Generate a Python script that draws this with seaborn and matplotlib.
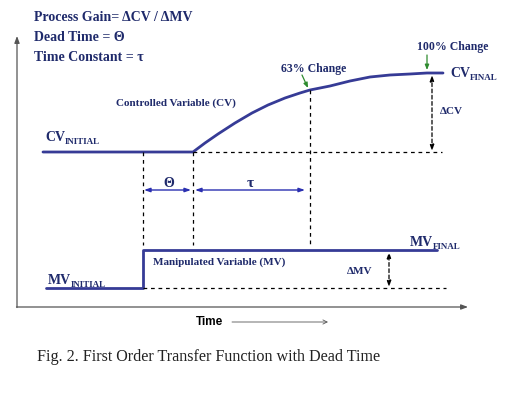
import matplotlib.pyplot as plt
import seaborn as sns
import pandas as pd

# Diagram drawn in a pixel-like coordinate space (x = time, y = level, y grows downward)
cv_time = [43, 143, 193, 205, 218, 235, 252, 268, 285, 300, 310, 330, 350, 370, 390, 410, 427, 443]
cv_level = [152, 152, 152, 143, 134, 123, 113, 105, 98, 93, 90, 86, 81, 77, 75, 74, 73, 73]
mv_time = [46, 143, 143, 437]
mv_level = [288, 288, 250, 250]

t_dead_start = 143
t_dead_end = 193
t_63 = 310
cv_63 = 90
t_final = 432
cv_initial = 152
cv_final = 73
mv_initial = 288
mv_final = 250
t_mv_delta = 389

header_lines = ["Process Gain= \u0394CV / \u0394MV", "Dead Time = \u0398", "Time Constant = \u03c4"]
caption = "Fig. 2. First Order Transfer Function with Dead Time"

LINE = "#363b96"
NAVY = "#1f2a6b"
GREEN = "#2e8b2e"

sns.set_style("white")
plt.rcParams['font.family'] = ['Liberation Serif', 'DejaVu Serif']

fig = plt.figure(figsize=(5.19, 3.94), dpi=100)
ax = fig.add_axes([0, 0, 1, 1])


def arrow(p_to, p_from, style, color, lw, ls="-"):
    ax.annotate("", xy=p_to, xytext=p_from,
                arrowprops=dict(arrowstyle=style, color=color, lw=lw, ls=ls,
                                shrinkA=0, shrinkB=0))


# axes of the diagram
arrow((17, 36), (17, 307.5), "-|>,head_length=0.4,head_width=0.15", "#555555", 0.9)
arrow((468, 307), (16.5, 307), "-|>,head_length=0.4,head_width=0.15", "#555555", 0.9)

# signals
cv_df = pd.DataFrame({"time": cv_time, "level": cv_level})
mv_df = pd.DataFrame({"time": mv_time, "level": mv_level})
sns.lineplot(data=cv_df, x="time", y="level", sort=False, estimator=None, color=LINE, lw=2.0,
             solid_joinstyle="round", ax=ax)
sns.lineplot(data=mv_df, x="time", y="level", sort=False, estimator=None, color=LINE, lw=2.0, ax=ax)
ax.set_xlim(0, 519)
ax.set_ylim(394, 0)
ax.axis('off')

# dashed guides
dash = dict(color="black", lw=0.9, ls=(0, (3, 3)))
ax.plot([t_dead_end, 442], [cv_initial, cv_initial], **dash)
ax.plot([t_dead_start, t_dead_start], [cv_initial, 245], **dash)
ax.plot([t_dead_end, t_dead_end], [cv_initial, 245], **dash)
ax.plot([t_63, t_63], [cv_63, 245], **dash)
ax.plot([t_dead_start, 446], [mv_initial, mv_initial], **dash)

# delta arrows
arrow((t_final, cv_final + 2), (t_final, cv_initial - 1), "<|-|>,head_length=0.35,head_width=0.12",
      "black", 0.9, (0, (3, 2)))
arrow((t_mv_delta, mv_final + 2), (t_mv_delta, mv_initial - 1), "<|-|>,head_length=0.35,head_width=0.12",
      "black", 0.9, (0, (3, 2)))

# theta / tau arrows
arrow((t_dead_start + 1, 190), (t_dead_end - 2, 190), "<|-|>,head_length=0.35,head_width=0.12", "#2a2fb0", 1.0)
arrow((t_dead_end + 2, 190), (305, 190), "<|-|>,head_length=0.35,head_width=0.12", "#2a2fb0", 1.0)
ax.text(169, 183, "\u0398", color=NAVY, fontsize=10, fontweight="bold", ha="center", va="center")
ax.text(250, 183, "\u03c4", color=NAVY, fontsize=11, fontweight="bold", ha="center", va="center")

# header
for i, line in enumerate(header_lines):
    ax.text(34, 17 + 20 * i, line, color=NAVY, fontsize=10, fontweight="bold", va="center")


# labels with subscripts
def sub_label(x, y, main, sub):
    t = ax.text(x, y, main, color=NAVY, fontsize=10, fontweight="bold", va="baseline")
    fig.canvas.draw()
    bb = t.get_window_extent().transformed(ax.transData.inverted())
    ax.text(bb.x1, y + 3, sub, color=NAVY, fontsize=6.5, fontweight="bold", va="baseline")


sub_label(45, 141, "CV", "INITIAL")
sub_label(450, 77, "CV", "FINAL")
sub_label(48, 284, "MV", "INITIAL")
sub_label(410, 246, "MV", "FINAL")

ax.text(116, 103, "Controlled Variable (CV)", color=NAVY, fontsize=8, fontweight="bold", va="center")
ax.text(153, 262, "Manipulated Variable (MV)", color=NAVY, fontsize=8, fontweight="bold", va="center")
ax.text(440, 111, "\u0394CV", color=NAVY, fontsize=8, fontweight="bold", va="center")
ax.text(347, 272, "\u0394MV", color=NAVY, fontsize=8, fontweight="bold", va="center")

ax.text(314, 69, "63% Change", color=NAVY, fontsize=8.5, fontweight="bold", ha="center", va="center")
arrow((308, 88), (302, 75), "-|>,head_length=0.3,head_width=0.12", GREEN, 0.9)
ax.text(453, 47, "100% Change", color=NAVY, fontsize=8.5, fontweight="bold", ha="center", va="center")
arrow((427, 70), (427, 55), "-|>,head_length=0.3,head_width=0.12", GREEN, 0.9)

# time axis label
ax.text(196, 322, "Time", color="black", fontsize=8.5, fontweight="bold", family="Liberation Sans", va="center")
arrow((328, 322), (232, 322), "->,head_length=0.3,head_width=0.15", "#555555", 0.6)

ax.text(37, 357, caption, color="#222222", fontsize=11.6, va="center")

fig.savefig("out.png", dpi=100)
